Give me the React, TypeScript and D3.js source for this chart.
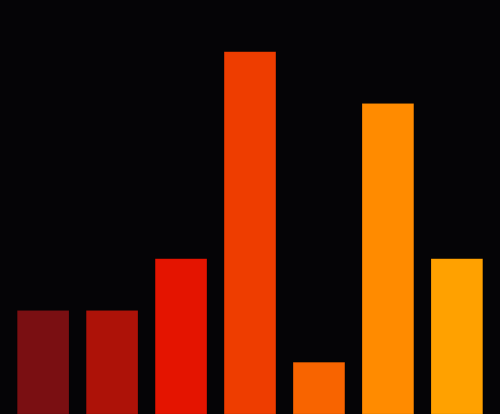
import { scaleBand, scaleLinear } from "d3";

const categories = ["A", "B", "C", "D", "E", "F", "G"];
const values = [2, 2, 3, 7, 1, 6, 3];
const colors = ["#7a0f12", "#ad1208", "#e41400", "#ee3d00", "#f86400", "#ff8b00", "#ffa100"];

const width = 500;
const height = 414;

export default function App() {
  const x = scaleBand<string>().domain(categories).range([0, width]).padding(0.25);
  const y = scaleLinear().domain([0, 8]).range([height, 0]);

  return (
    <div style={{ position: "fixed", left: 0, top: 0, width, height, background: "#050406" }}>
      <svg width={width} height={height} style={{ display: "block" }}>
        <rect width={width} height={height} fill="#050406" />
        {categories.map((c, i) => (
          <rect
            key={c}
            x={x(c)}
            y={y(values[i])}
            width={x.bandwidth()}
            height={height - y(values[i])}
            fill={colors[i]}
            stroke="rgba(0,0,0,0.15)"
            strokeWidth={0.6}
          />
        ))}
      </svg>
    </div>
  );
}
